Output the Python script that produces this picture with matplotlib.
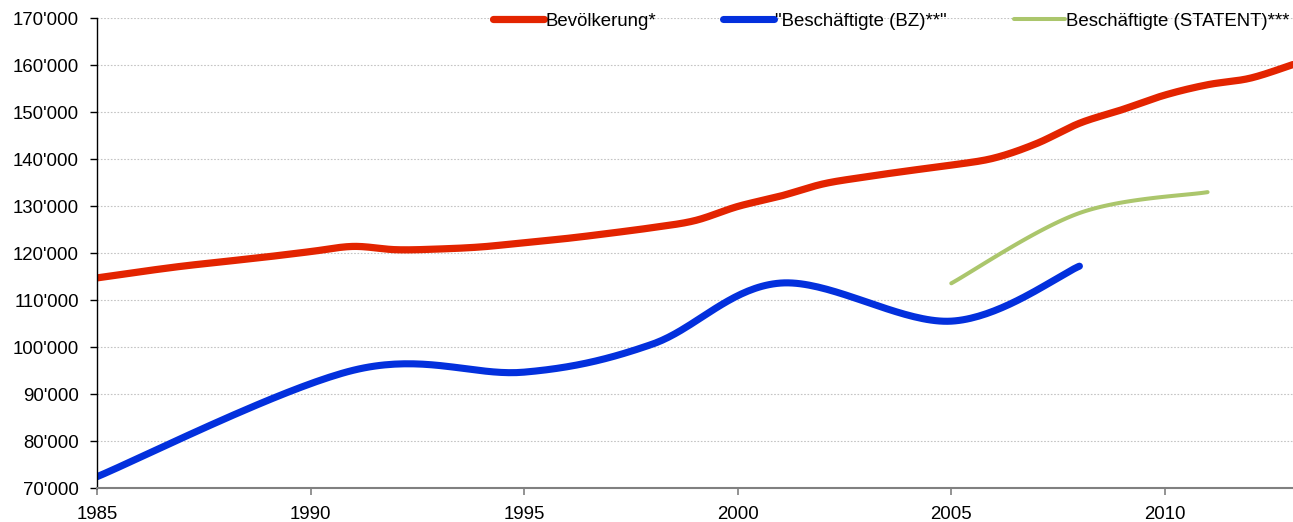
import numpy as np
import matplotlib
matplotlib.use("Agg")
import matplotlib.pyplot as plt
from matplotlib.ticker import FuncFormatter, MultipleLocator

# ---- data ----
pop_years = [1985, 1986, 1987, 1988, 1989, 1990, 1991, 1992, 1993, 1994, 1995,
             1996, 1997, 1998, 1999, 2000, 2001, 2002, 2003, 2004, 2005, 2006,
             2007, 2008, 2009, 2010, 2011, 2012, 2013]
pop_values = [114700, 116000, 117200, 118200, 119200, 120300, 121400, 120700,
              120850, 121300, 122200, 123100, 124200, 125400, 126900, 129900,
              132100, 134700, 136200, 137500, 138700, 140200, 143300, 147600,
              150500, 153600, 155800, 157200, 160100]

bz_years = [1985, 1991, 1995, 1998, 2001, 2005, 2008]
bz_values = [72400, 95050, 94650, 100600, 113600, 105500, 117200]

statent_years = [2005, 2008, 2011]
statent_values = [113550, 128500, 132950]

labels = ["Bevölkerung*", "\"Beschäftigte (BZ)**\"", "Beschäftigte (STATENT)***"]
colors = ["#E32400", "#0330DD", "#ABC66C"]


def smooth(xs, ys, n=40):
    """Excel-like smoothed line: Bezier segments with Catmull-Rom control points."""
    P = np.column_stack([np.asarray(xs, float), np.asarray(ys, float)])
    m = len(P)
    out = [P[0]]
    t = np.linspace(0, 1, n)[1:, None]
    for i in range(m - 1):
        p0 = P[i - 1] if i > 0 else P[i]
        p1 = P[i]
        p2 = P[i + 1]
        p3 = P[i + 2] if i + 2 < m else P[i + 1]
        c1 = p1 + (p2 - p0) / 6.0
        c2 = p2 - (p3 - p1) / 6.0
        seg = ((1 - t) ** 3) * p1 + 3 * ((1 - t) ** 2) * t * c1 + 3 * (1 - t) * t ** 2 * c2 + t ** 3 * p2
        out.extend(seg)
    out = np.array(out)
    return out[:, 0], out[:, 1]


plt.rcParams['font.family'] = ['Liberation Sans', 'DejaVu Sans']
fs = 13.4

fig = plt.figure(figsize=(12.93, 5.22), dpi=100)
ax = fig.add_axes([97 / 1293, 1 - 488 / 522, 1 - 97 / 1293, (488 - 18) / 522])

series = [(pop_years, pop_values, 5.2), (bz_years, bz_values, 5.1), (statent_years, statent_values, 2.9)]
for (xs, ys, lw), lab, col in zip(series, labels, colors):
    sx, sy = smooth(xs, ys)
    ax.plot(sx, sy, color=col, lw=lw, label=lab, solid_capstyle='round', zorder=3)

ax.set_xlim(1985, 2013)
ax.set_ylim(70000, 170000)
ax.yaxis.set_major_locator(MultipleLocator(10000))
ax.xaxis.set_major_locator(MultipleLocator(5))
ax.yaxis.set_major_formatter(FuncFormatter(lambda v, p: f"{int(v):,}".replace(",", "'")))
ax.xaxis.set_major_formatter(FuncFormatter(lambda v, p: f"{int(v)}"))

ax.grid(axis='y', color='#c4c4c4', linestyle=(0, (1.5, 1.5)), linewidth=0.8, zorder=0)
ax.set_axisbelow(True)
for s in ['top', 'right']:
    ax.spines[s].set_visible(False)
ax.spines['left'].set_color('black')
ax.spines['left'].set_linewidth(1.0)
ax.spines['bottom'].set_color('#808080')
ax.spines['bottom'].set_linewidth(1.5)
ax.spines['left'].set_zorder(4)
ax.spines['bottom'].set_zorder(4)

ax.tick_params(axis='y', direction='out', length=5, width=1, color='black', labelsize=fs, pad=8)
ax.tick_params(axis='x', direction='out', length=5, width=1.2, color='#808080', labelsize=fs, pad=8)

leg = ax.legend(loc='center right', bbox_to_anchor=(1289 / 1293, 1 - 21 / 522),
                bbox_transform=fig.transFigure, ncol=3, frameon=False, fontsize=fs,
                handlelength=2.75, handletextpad=0.05, columnspacing=3.6,
                borderpad=0, borderaxespad=0)

fig.savefig("out.png", dpi=100)
